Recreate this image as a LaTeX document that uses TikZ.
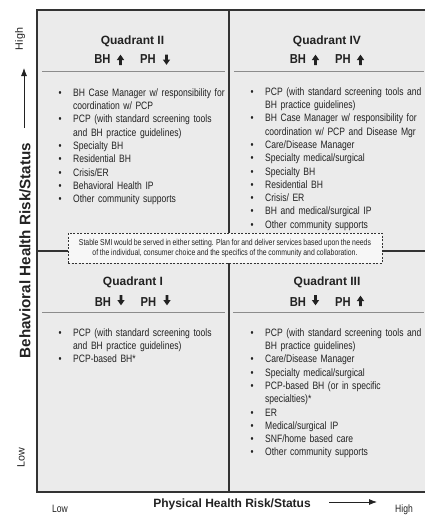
\documentclass[tikz,border=0pt]{standalone}
\usepackage{fontspec}
\setmainfont{Liberation Sans}
\newfontfamily\narrowfont[FakeStretch=0.80, WordSpace=0.9]{Liberation Sans}
\newfontfamily\bhfont[FakeStretch=0.86]{Liberation Sans}
\usetikzlibrary{arrows.meta}
\definecolor{panel}{HTML}{EBEBEB}
\definecolor{ink}{HTML}{222222}
\definecolor{frame}{HTML}{333333}
\definecolor{sepline}{HTML}{8C8C8C}
\definecolor{notefill}{HTML}{F7F7F7}
\newcommand\bitem{\par\hangindent=14.5pt\hangafter=1\noindent\makebox[14.5pt][l]{\strut\textbullet}}
\newcommand\bharrowup[2]{\fill[ink] (#1-3.7,#2) -- (#1,#2-5.3) -- (#1+3.7,#2) -- (#1+1.35,#2) -- (#1+1.35,#2+5) -- (#1-1.35,#2+5) -- (#1-1.35,#2) -- cycle;}
\newcommand\bharrowdown[2]{\fill[ink] (#1-3.7,#2) -- (#1,#2+5.3) -- (#1+3.7,#2) -- (#1+1.35,#2) -- (#1+1.35,#2-5) -- (#1-1.35,#2-5) -- (#1-1.35,#2) -- cycle;}
\tikzset{
  quadtitle/.style={font=\bfseries\fontsize{12}{14}\selectfont, text=ink, inner sep=0, anchor=base},
  bhlabel/.style={font=\bhfont\bfseries\fontsize{13}{15}\selectfont, text=ink, inner sep=0, anchor=base},
  itemlist/.style={font=\narrowfont\fontsize{10.7}{13.3}\selectfont, text=ink, inner sep=0, anchor=north west, text width=175pt},
  axislabel/.style={font=\bfseries, text=ink, inner sep=0},
  endlabel/.style={font=\fontsize{10.7}{13}\selectfont, text=ink, inner sep=0},
  hendlabel/.style={font=\narrowfont\fontsize{10.7}{13}\selectfont, text=ink, inner sep=0},
  sep/.style={draw=sepline, line width=0.9pt},
  divider/.style={draw=frame, line width=1.3pt},
  axisarrow/.style={draw=ink, line width=0.8pt, -{Latex[length=8pt,width=6pt]}},
}
\begin{document}
\begin{tikzpicture}[x=1pt,y=-1pt]
\useasboundingbox (0,0) rectangle (424,515);
% panel
\fill[panel] (37,10) rectangle (428,492);
\draw[divider] (229,10) -- (229,492);
\draw[divider] (37,251) -- (428,251);
\draw[frame, line width=1.6pt] (37,10) rectangle (428,492);
% separators
\draw[sep] (42,71) -- (225,71);
\draw[sep] (234,71) -- (424,71);
\draw[sep] (42,312) -- (225,312);
\draw[sep] (233,312) -- (424,312);
% note box
\node[draw=frame, dashed, dash pattern=on 2pt off 1.5pt, line width=0.8pt, fill=notefill,
  minimum width=314pt, minimum height=30pt, inner sep=0, align=center,
  font=\narrowfont\fontsize{8.6}{10}\selectfont, text=ink] (note) at (225,248)
  {Stable SMI would be served in either setting. Plan for and deliver services based upon the needs\\
   of the individual, consumer choice and the specifics of the community and collaboration.};
% Quadrant II
\node[quadtitle] (q2title) at (132.5,44) {Quadrant II};
\node[bhlabel] (q2bh) at (102.5,63.5) {BH};
\node[bhlabel] (q2ph) at (148,63.5) {PH};
\bharrowup{120.5}{60}
\bharrowdown{166.5}{59.5}
\node[itemlist] (q2list) at (58.5,82.7) {\raggedright
\bitem BH Case Manager w/ responsibility for\newline coordination w/ PCP
\bitem PCP (with standard screening tools\newline and BH practice guidelines)
\bitem Specialty BH
\bitem Residential BH
\bitem Crisis/ER
\bitem Behavioral Health IP
\bitem Other community supports\par};
% Quadrant IV
\node[quadtitle] (q4title) at (327,44) {Quadrant IV};
\node[bhlabel] (q4bh) at (298,63.5) {BH};
\node[bhlabel] (q4ph) at (343,63.5) {PH};
\bharrowup{315.5}{60}
\bharrowup{360.5}{60}
\node[itemlist] (q4list) at (250.5,81.7) {\raggedright
\bitem PCP (with standard screening tools and\newline BH practice guidelines)
\bitem BH Case Manager w/ responsibility for\newline coordination w/ PCP and Disease Mgr
\bitem Care/Disease Manager
\bitem Specialty medical/surgical
\bitem Specialty BH
\bitem Residential BH
\bitem Crisis/ ER
\bitem BH and medical/surgical IP
\bitem Other community supports\par};
% Quadrant I
\node[quadtitle] (q1title) at (133,285) {Quadrant I};
\node[bhlabel] (q1bh) at (103,306.5) {BH};
\node[bhlabel] (q1ph) at (148.5,306.5) {PH};
\bharrowdown{121}{300}
\bharrowdown{167}{300}
\node[itemlist] (q1list) at (58.5,322.7) {\raggedright
\bitem PCP (with standard screening tools\newline and BH practice guidelines)
\bitem PCP-based BH*\par};
% Quadrant III
\node[quadtitle] (q3title) at (327,285) {Quadrant III};
\node[bhlabel] (q3bh) at (298,306.5) {BH};
\node[bhlabel] (q3ph) at (343,306.5) {PH};
\bharrowdown{315.5}{300}
\bharrowup{360.5}{301}
\node[itemlist] (q3list) at (250.5,322.7) {\raggedright
\bitem PCP (with standard screening tools and\newline BH practice guidelines)
\bitem Care/Disease Manager
\bitem Specialty medical/surgical
\bitem PCP-based BH (or in specific\newline specialties)*
\bitem ER
\bitem Medical/surgical IP
\bitem SNF/home based care
\bitem Other community supports\par};
% vertical axis
\node[axislabel, rotate=90, font=\bfseries\fontsize{15.2}{17}\selectfont] (yaxis) at (25,250.5) {Behavioral Health Risk/Status};
\node[endlabel, rotate=90] (yhigh) at (20,39) {High};
\node[endlabel, rotate=90] (ylow) at (21,457.5) {Low};
\coordinate (ya) at (24,128);
\coordinate (yb) at (24,68);
\draw[axisarrow] (ya) -- (yb);
% horizontal axis
\node[axislabel, font=\bfseries\fontsize{12}{14}\selectfont, anchor=base] (xaxis) at (232,507) {Physical Health Risk/Status};
\node[hendlabel] (xlow) at (60,509) {Low};
\node[hendlabel] (xhigh) at (404,510) {High};
\coordinate (xa) at (329,502);
\coordinate (xb) at (377,502);
\draw[axisarrow] (xa) -- (xb);
\end{tikzpicture}
\end{document}
